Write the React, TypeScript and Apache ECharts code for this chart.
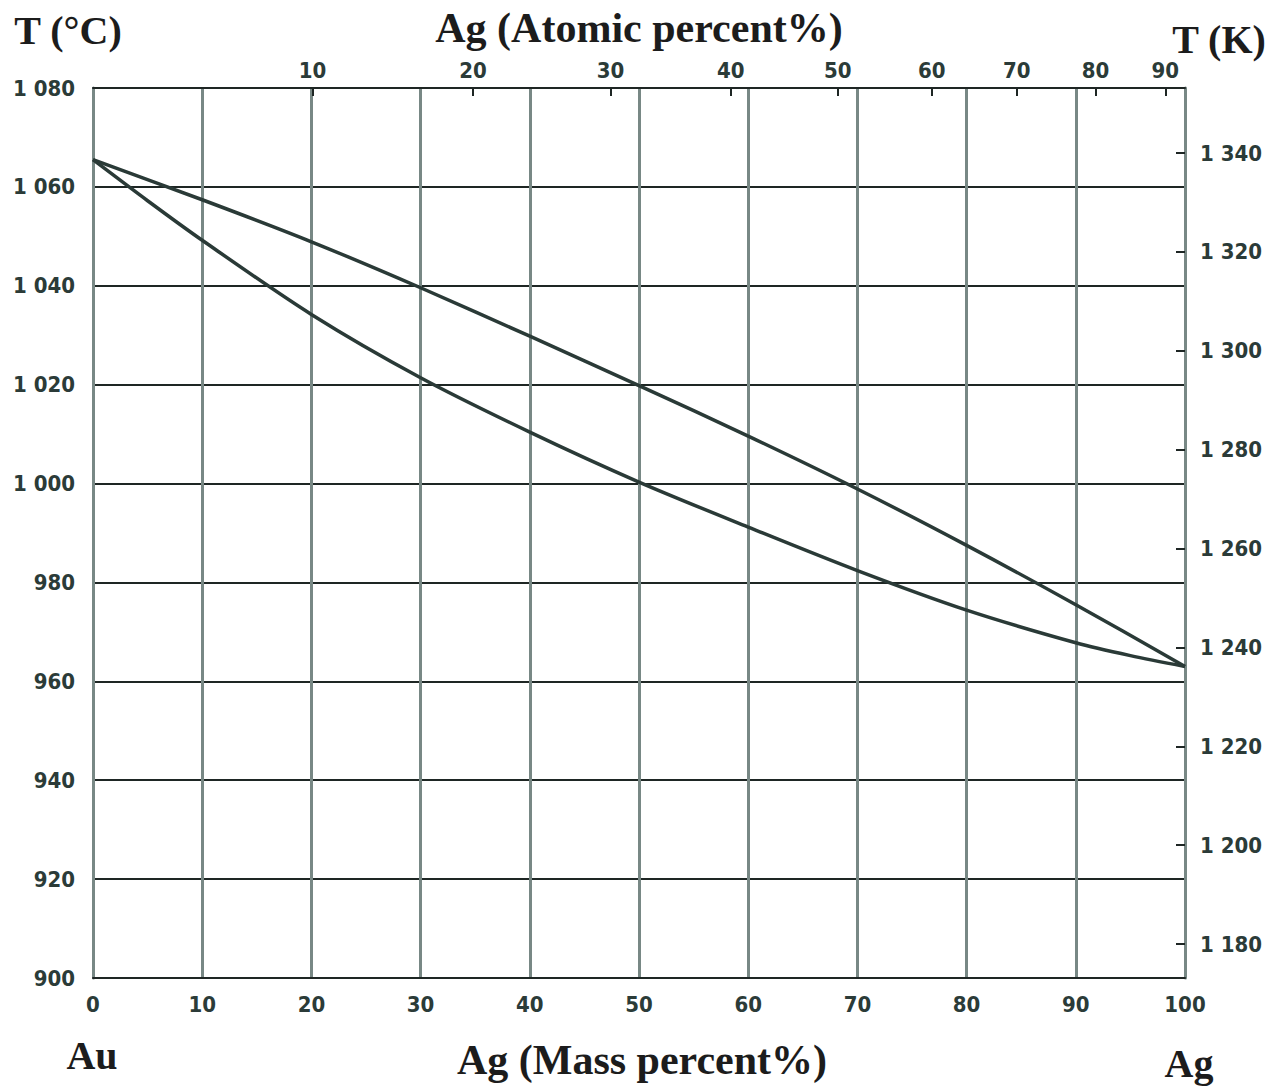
import React, { useEffect, useRef } from "react";
import * as echarts from "echarts";

// Ag mass percent (bottom axis) and temperatures in °C
const liquidusMass = [0, 10, 20, 30, 40, 50, 60, 70, 80, 90, 100];
const liquidusT = [1065.5, 1057.4, 1048.9, 1039.6, 1029.8, 1019.8, 1009.6, 998.9, 987.5, 975.5, 963];

const solidusMass = [0, 5, 10, 20, 30, 40, 50, 60, 70, 80, 90, 95, 100];
const solidusT = [1065.5, 1057.2, 1049.2, 1034.2, 1021.4, 1010.4, 1000.3, 991.2, 982.4, 974.4, 967.8, 965.2, 963];

// Top axis: atomic percent labels and where they sit on the mass-percent scale
const atomicLabels = [10, 20, 30, 40, 50, 60, 70, 80, 90];
const atomicAtMass = [20.1, 34.8, 47.4, 58.4, 68.2, 76.8, 84.6, 91.8, 98.2];

// Right axis: Kelvin ticks
const kelvinTicks = [1180, 1200, 1220, 1240, 1260, 1280, 1300, 1320, 1340];
const K_OFFSET = 273.15;

const TICK_FONT = "'Liberation Sans Narrow', 'DejaVu Sans Condensed', 'Arial Narrow', sans-serif";
const TITLE_FONT = "'Liberation Serif', 'Times New Roman', serif";
const TEXT_COLOR = "#2b3b38";
const LINE_COLOR = "#2a3a37";
const GREY = "#788885";
const DARK = "#1e2624";

function thousands(v: number): string {
  const s = String(Math.round(v));
  return v >= 1000 ? s.slice(0, 1) + " " + s.slice(1) : s;
}

export default function App() {
  const ref = useRef<HTMLDivElement>(null);

  useEffect(() => {
    if (!ref.current) return;
    const chart = echarts.init(ref.current, undefined, { renderer: "svg" });
    const tickLabel = {
      fontFamily: TICK_FONT,
      fontWeight: "bold" as const,
      fontSize: 22,
      color: TEXT_COLOR,
    };
    const titleStyle = (text: string, x: number, y: number, size: number) => ({
      type: "text",
      x,
      y,
      style: {
        text,
        font: `bold ${size}px ${TITLE_FONT}`,
        fill: "#1c1c1c",
        textAlign: "center",
        textVerticalAlign: "middle",
      },
    });

    chart.setOption({
      animation: false,
      backgroundColor: "#ffffff",
      grid: { left: 93, top: 88, right: 86, bottom: 110, containLabel: false },
      xAxis: [
        {
          type: "value",
          position: "bottom",
          min: 0,
          max: 100,
          interval: 10,
          axisLine: { show: true, onZero: false, lineStyle: { color: DARK, width: 2 } },
          axisTick: { show: false },
          axisLabel: { ...tickLabel, margin: 15 },
          splitLine: { show: true, lineStyle: { color: GREY, width: 3 } },
        },
        {
          type: "value",
          position: "top",
          min: 0,
          max: 100,
          axisLine: { show: true, onZero: false, lineStyle: { color: DARK, width: 2 } },
          axisTick: {
            show: true,
            inside: true,
            length: 8,
            customValues: atomicAtMass,
            lineStyle: { color: DARK, width: 2 },
          },
          axisLabel: {
            ...tickLabel,
            margin: 7,
            customValues: atomicAtMass,
            formatter: (v: number) => {
              const i = atomicAtMass.findIndex((m) => Math.abs(m - v) < 1e-6);
              return i >= 0 ? String(atomicLabels[i]) : "";
            },
          },
          splitLine: { show: false },
        },
      ],
      yAxis: [
        {
          type: "value",
          position: "left",
          min: 900,
          max: 1080,
          interval: 20,
          axisLine: { show: true, onZero: false, lineStyle: { color: GREY, width: 3 } },
          axisTick: { show: false },
          axisLabel: { ...tickLabel, margin: 18, formatter: (v: number) => thousands(v) },
          splitLine: { show: true, lineStyle: { color: DARK, width: 2 } },
        },
        {
          type: "value",
          position: "right",
          min: 900 + K_OFFSET,
          max: 1080 + K_OFFSET,
          axisLine: { show: true, onZero: false, lineStyle: { color: GREY, width: 3 } },
          axisTick: {
            show: true,
            inside: true,
            length: 9,
            customValues: kelvinTicks,
            lineStyle: { color: DARK, width: 2 },
          },
          axisLabel: {
            ...tickLabel,
            margin: 15,
            customValues: kelvinTicks,
            formatter: (v: number) => thousands(v),
          },
          splitLine: { show: false },
        },
      ],
      series: [
        {
          name: "Liquidus",
          type: "line",
          xAxisIndex: 0,
          yAxisIndex: 0,
          data: liquidusMass.map((m, i) => [m, liquidusT[i]]),
          smooth: 0.3,
          showSymbol: false,
          lineStyle: { color: LINE_COLOR, width: 3.5 },
          z: 5,
        },
        {
          name: "Solidus",
          type: "line",
          xAxisIndex: 0,
          yAxisIndex: 0,
          data: solidusMass.map((m, i) => [m, solidusT[i]]),
          smooth: 0.3,
          showSymbol: false,
          lineStyle: { color: LINE_COLOR, width: 3.5 },
          z: 5,
        },
      ],
      graphic: [
        titleStyle("T (°C)", 68, 30, 40),
        titleStyle("Ag (Atomic percent%)", 639, 28, 42),
        titleStyle("T (K)", 1219, 39, 40),
        titleStyle("Au", 92, 1055, 40),
        titleStyle("Ag (Mass percent%)", 642, 1060, 42),
        titleStyle("Ag", 1189, 1063, 40),
      ],
    });
    return () => chart.dispose();
  }, []);

  return (
    <div
      ref={ref}
      style={{ position: "absolute", left: 0, top: 0, width: 1271, height: 1088 }}
    />
  );
}
